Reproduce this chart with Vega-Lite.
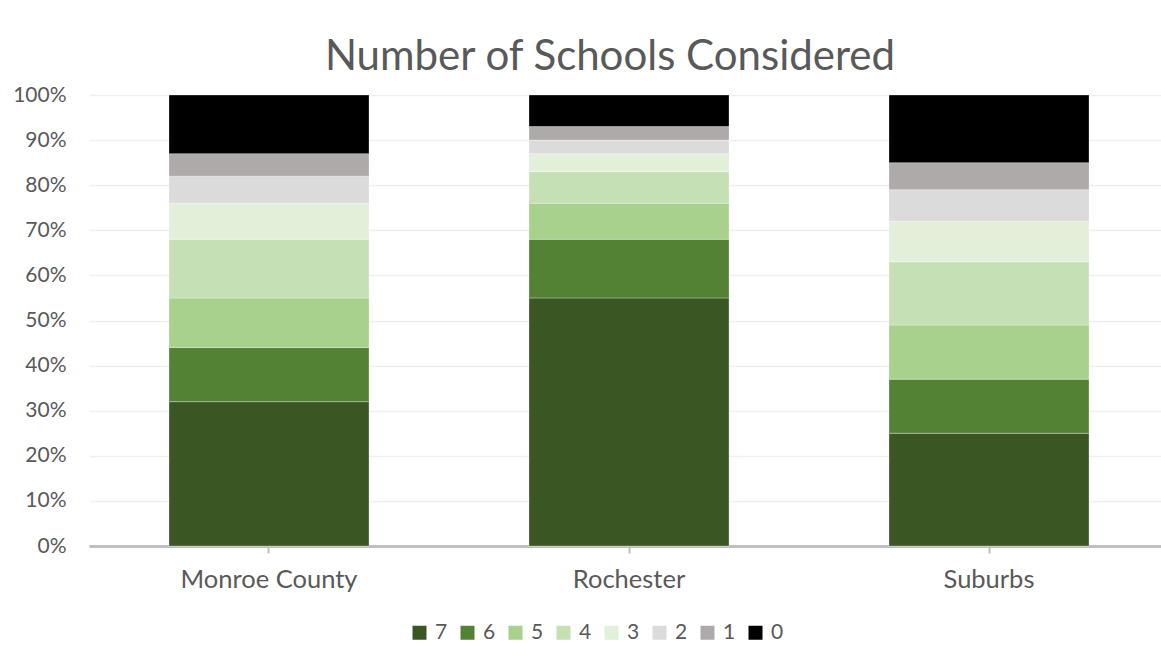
{
  "$schema": "https://vega.github.io/schema/vega-lite/v6.json",
  "autosize": "none",
  "width": 1080,
  "height": 451,
  "padding": {"left": 89, "top": 95, "right": 0, "bottom": 122},
  "background": "#ffffff",
  "title": {
    "text": "Number of Schools Considered",
    "font": "Lato",
    "fontSize": 42,
    "fontWeight": "normal",
    "color": "#595959",
    "anchor": "middle",
    "baseline": "alphabetic",
    "offset": 23,
    "dy": 51,
    "dx": -19
  },
  "data": {
    "values": [
      {"area": "Monroe County", "schools": 7, "share": 0.32},
      {"area": "Monroe County", "schools": 6, "share": 0.12},
      {"area": "Monroe County", "schools": 5, "share": 0.11},
      {"area": "Monroe County", "schools": 4, "share": 0.13},
      {"area": "Monroe County", "schools": 3, "share": 0.08},
      {"area": "Monroe County", "schools": 2, "share": 0.06},
      {"area": "Monroe County", "schools": 1, "share": 0.05},
      {"area": "Monroe County", "schools": 0, "share": 0.13},
      {"area": "Rochester", "schools": 7, "share": 0.55},
      {"area": "Rochester", "schools": 6, "share": 0.13},
      {"area": "Rochester", "schools": 5, "share": 0.08},
      {"area": "Rochester", "schools": 4, "share": 0.07},
      {"area": "Rochester", "schools": 3, "share": 0.04},
      {"area": "Rochester", "schools": 2, "share": 0.03},
      {"area": "Rochester", "schools": 1, "share": 0.03},
      {"area": "Rochester", "schools": 0, "share": 0.07},
      {"area": "Suburbs", "schools": 7, "share": 0.25},
      {"area": "Suburbs", "schools": 6, "share": 0.12},
      {"area": "Suburbs", "schools": 5, "share": 0.12},
      {"area": "Suburbs", "schools": 4, "share": 0.14},
      {"area": "Suburbs", "schools": 3, "share": 0.09},
      {"area": "Suburbs", "schools": 2, "share": 0.07},
      {"area": "Suburbs", "schools": 1, "share": 0.06},
      {"area": "Suburbs", "schools": 0, "share": 0.15}
    ]
  },
  "mark": {"type": "bar", "stroke": "#ffffff", "strokeWidth": 0.5, "strokeOpacity": 0.6},
  "encoding": {
    "x": {
      "field": "area",
      "type": "nominal",
      "sort": ["Monroe County", "Rochester", "Suburbs"],
      "scale": {"paddingInner": 0.4444, "paddingOuter": 0.2222},
      "axis": {
        "title": null,
        "labelAngle": 0,
        "labelFont": "Lato",
        "labelFontSize": 25.5,
        "labelColor": "#595959",
        "labelPadding": 14,
        "domainColor": "#BFBFBF",
        "domainWidth": 3,
        "tickColor": "#BFBFBF",
        "tickWidth": 2,
        "tickSize": 7,
        "grid": false
      }
    },
    "y": {
      "field": "share",
      "type": "quantitative",
      "stack": "zero",
      "scale": {"domain": [0, 1], "nice": false},
      "axis": {
        "title": null,
        "format": ".0%",
        "values": [0, 0.1, 0.2, 0.3, 0.4, 0.5, 0.6, 0.7, 0.8, 0.9, 1],
        "labelFont": "Lato",
        "labelFontSize": 21,
        "labelColor": "#595959",
        "labelPadding": 23,
        "ticks": false,
        "domain": false,
        "grid": true,
        "gridColor": "#EFEFEF",
        "gridWidth": 1.5
      }
    },
    "color": {
      "field": "schools",
      "type": "ordinal",
      "scale": {
        "domain": [7, 6, 5, 4, 3, 2, 1, 0],
        "range": ["#3A5723", "#548235", "#A9D18E", "#C5E0B4", "#E2F0D9", "#DBDBDB", "#AEAAAA", "#000000"]
      },
      "legend": {
        "title": null,
        "orient": "none",
        "direction": "horizontal",
        "legendX": 320,
        "legendY": 527,
        "symbolType": "square",
        "symbolSize": 196,
        "symbolStrokeWidth": 0,
        "labelFont": "Lato",
        "labelFontSize": 21,
        "labelColor": "#595959",
        "labelOffset": 5,
        "columnPadding": 9
      }
    },
    "order": {"field": "schools", "type": "quantitative", "sort": "descending"}
  },
  "config": {"view": {"stroke": null}}
}
